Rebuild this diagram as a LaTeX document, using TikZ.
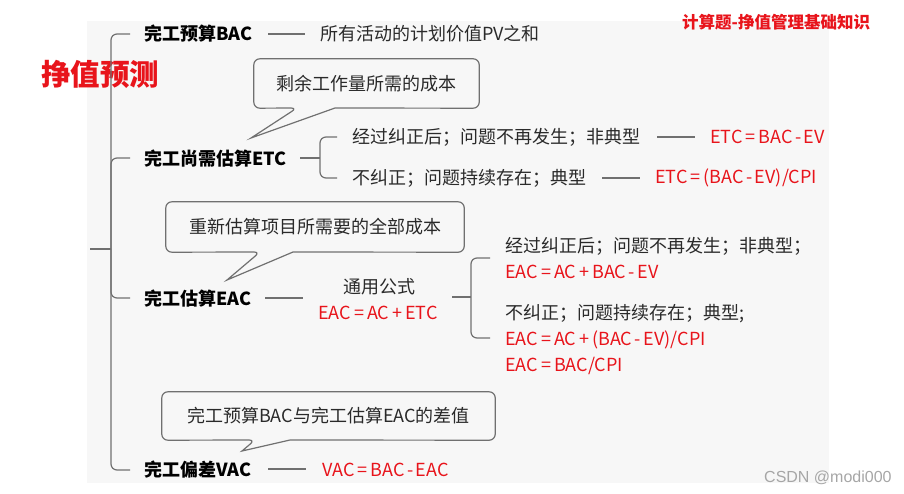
\documentclass[tikz,border=0pt]{standalone}
\usepackage{fontspec}
\setmainfont{Noto Sans CJK SC}
\newfontfamily\csdnfont{Liberation Sans}
\usetikzlibrary{calc}
\definecolor{panel}{HTML}{F7F7F7}
\definecolor{lnc}{HTML}{707070}
\definecolor{redc}{HTML}{E8141B}
\definecolor{txt}{HTML}{2A2A2A}
\newcommand\myeq{\kern3pt=\kern3pt}
\newcommand\myplus{\kern3pt+\kern3pt}
\newcommand\mymin{\kern2.5pt-\kern2.5pt}
\begin{document}
\begin{tikzpicture}[x=1pt,y=-1pt,
  lbl/.style={anchor=west, inner sep=0pt, font=\fontsize{18}{20}\selectfont\bfseries, text=black},
  desc/.style={anchor=west, inner sep=0pt, font=\fontsize{18}{20}\selectfont, text=txt},
  fml/.style={anchor=west, inner sep=0pt, font=\fontsize{18}{20}\selectfont, text=redc},
  ln/.style={draw=lnc, line width=1.2pt},
  br/.style={ln, rounded corners=6pt},
  co/.style={draw=lnc, line width=1.2pt, fill=panel},
  cotext/.style={inner sep=0pt, font=\fontsize{18}{20}\selectfont, text=txt}
]
\useasboundingbox (0,0) rectangle (904,493);
\fill[panel] (87,21) rectangle (829,483);

% titles
\node[anchor=west, inner sep=0pt, font=\fontsize{29.5}{32}\selectfont\bfseries, text=redc] (title) at (41,74) {挣值预测};
\node[anchor=west, inner sep=0pt, font=\fontsize{16.5}{18}\selectfont\bfseries, text=redc] (header) at (682,22) {计算题-挣值管理基础知识};

% main labels
\node[lbl] (bac) at (144,34) {完工预算BAC};
\node[desc] (bacd) at (320,34) {所有活动的计划价值PV之和};
\node[lbl] (etc) at (144,159) {完工尚需估算ETC};
\node[desc] (etc1) at (352,137) {经过纠正后；问题不再发生；非典型};
\node[fml] (etc1f) at (710,137) {ETC\myeq BAC\mymin EV};
\node[desc] (etc2) at (352,178) {不纠正；问题持续存在；典型};
\node[fml] (etc2f) at (655,178) {ETC\myeq(BAC\mymin EV)/CPI};
\node[lbl] (eac) at (144,299) {完工估算EAC};
\node[desc] (gen) at (343,287) {通用公式};
\node[fml] (genf) at (318,313) {EAC\myeq AC\myplus ETC};
\node[desc] (eac1) at (505,246) {经过纠正后；问题不再发生；非典型；};
\node[fml] (eac1f) at (505,272) {EAC\myeq AC\myplus BAC\mymin EV};
\node[desc] (eac2) at (505,314) {不纠正；问题持续存在；典型;};
\node[fml] (eac2f) at (505,340) {EAC\myeq AC\myplus(BAC\mymin EV)/CPI};
\node[fml] (eac3f) at (505,366) {EAC\myeq BAC/CPI};
\node[lbl] (vac) at (144,470) {完工偏差VAC};
\node[fml] (vacf) at (322,470) {VAC\myeq BAC\mymin EAC};

% spine
\coordinate (root) at (90,249);
\coordinate (spine) at (111,249);
\draw[ln] (root) -- (spine);
\draw[br] ([xshift=-14pt]bac.west |- 0,34) -| (spine);
\draw[br] ([xshift=-14pt]vac.west |- 0,470) -| (spine);
\draw[br] ([xshift=-14pt]etc.west |- 0,158) -| (spine);
\draw[br] ([xshift=-14pt]eac.west |- 0,298) -| (spine);

% connectors
\draw[ln] ([xshift=-52pt]bacd.west) -- ([xshift=-15pt]bacd.west);
\draw[ln] ([xshift=-53pt]etc1f.west) -- ([xshift=-15pt]etc1f.west);
\draw[ln] ([xshift=-53pt]etc2f.west) -- ([xshift=-15pt]etc2f.west);
\draw[ln] ([xshift=-54pt]vacf.west |- 0,469) -- ([xshift=-16pt]vacf.west |- 0,469);
\draw[ln] ([xshift=-53pt]genf.west |- 0,298) -- ([xshift=-15pt]genf.west |- 0,298);

% ETC bracket
\coordinate (etcmid) at (320,158);
\draw[ln] ([xshift=-52pt]etc1.west |- 0,158) -- (etcmid);
\draw[br] ([xshift=-15pt]etc1.west) -| (etcmid) |- ([xshift=-15pt]etc2.west);

% EAC bracket
\coordinate (eacmid) at (471,297);
\draw[ln] (452,297) -- (eacmid);
\draw[br] ([xshift=-15pt]eac1.west |- 0,258) -| (eacmid) |- ([xshift=-15pt]eac2.west |- 0,338);

% callout 1
\node[cotext, minimum width=225pt, minimum height=49pt] (c1) at (366.5,83.5) {};
\coordinate (t1) at (251,138);
\draw[co] (335,108) [rounded corners=6pt] -- (c1.south east) -- (c1.north east) -- (c1.north west) -- (c1.south west) -- (297,108) [sharp corners] -- (t1) -- cycle;
\node[cotext] (c1t) at (c1) {剩余工作量所需的成本};

% callout 2
\node[cotext, minimum width=298pt, minimum height=50pt] (c2) at (315,227) {};
\coordinate (t2) at (227,280);
\draw[co] (293,252) [rounded corners=6pt] -- (c2.south east) -- (c2.north east) -- (c2.north west) -- (c2.south west) -- (260,252) [sharp corners] -- (t2) -- cycle;
\node[cotext] (c2t) at (c2) {重新估算项目所需要的全部成本};

% callout 3
\node[cotext, minimum width=333pt, minimum height=48pt] (c3) at (328.5,416) {};
\coordinate (t3) at (242,451);
\draw[co] (290,440) [rounded corners=6pt] -- (c3.south east) -- (c3.north east) -- (c3.north west) -- (c3.south west) -- (255,440) [sharp corners] -- (t3) -- cycle;
\node[cotext] (c3t) at (c3) {完工预算BAC与完工估算EAC的差值};

% watermark text
\node[anchor=west, inner sep=0pt, font=\csdnfont\fontsize{16}{18}\selectfont, text=black!35] (csdn) at (764,478) {CSDN @modi000};
\end{tikzpicture}
\end{document}
